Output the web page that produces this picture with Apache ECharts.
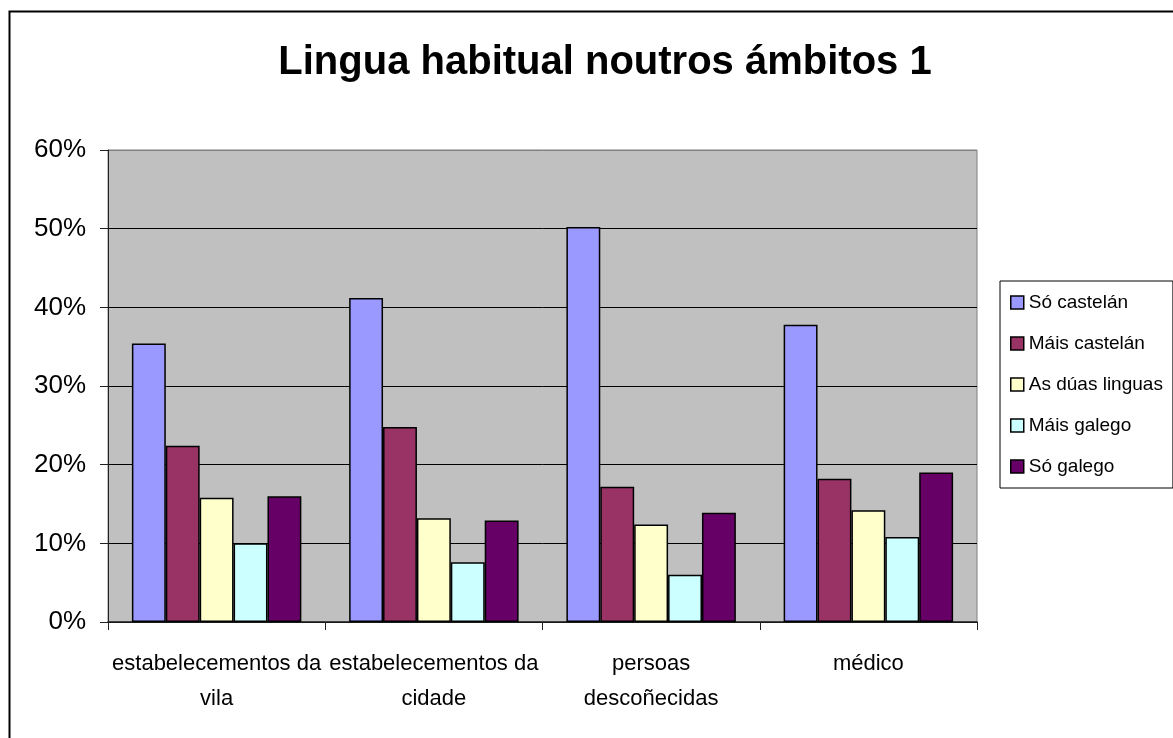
<!DOCTYPE html>
<html>
<head>
<meta charset="utf-8">
<script src="https://cdn.jsdelivr.net/npm/echarts@6/dist/echarts.min.js"></script>
<style>
  html, body { margin: 0; padding: 0; background: #fff; }
  #chart { width: 1173px; height: 738px; }
</style>
</head>
<body>
<div id="chart"></div>
<script>
// Survey shares by setting (fractions of respondents)
const categories = [
  'estabelecementos da\nvila',
  'estabelecementos da\ncidade',
  'persoas\ndescoñecidas',
  'médico'
];
const seriesNames = ['Só castelán', 'Máis castelán', 'As dúas linguas', 'Máis galego', 'Só galego'];
const soCastelan   = [0.354, 0.412, 0.502, 0.378];
const maisCastelan = [0.224, 0.248, 0.172, 0.182];
const duasLinguas  = [0.158, 0.132, 0.124, 0.142];
const maisGalego   = [0.100, 0.076, 0.060, 0.108];
const soGalego     = [0.160, 0.129, 0.139, 0.190];
const yTicks = [0, 0.1, 0.2, 0.3, 0.4, 0.5, 0.6];

const colors = ['#9999FF', '#993366', '#FFFFCC', '#CCFFFF', '#660066'];
const values = [soCastelan, maisCastelan, duasLinguas, maisGalego, soGalego];
const font = 'Arial, "Liberation Sans", sans-serif';

// gridlines are black; the top one doubles as the grey plot-area border
const gridLineColors = yTicks.map((t, i) => (i === yTicks.length - 1 ? '#808080' : '#000'));

const chart = echarts.init(document.getElementById('chart'), null, { renderer: 'canvas' });

chart.setOption({
  animation: false,
  backgroundColor: '#ffffff',
  color: colors,
  title: {
    text: 'Lingua habitual noutros ámbitos 1',
    left: 600,
    top: 38,
    textAlign: 'center',
    textStyle: { fontFamily: font, fontSize: 40, fontWeight: 'bold', color: '#000', lineHeight: 40 }
  },
  graphic: [{
    type: 'rect',
    left: 7, top: 9,
    shape: { width: 1200, height: 800 },
    style: { fill: 'none', stroke: '#000', lineWidth: 2 },
    silent: true,
    z: 100
  }],
  legend: {
    orient: 'vertical',
    left: 1000,
    top: 281,
    padding: [12, 10, 12, 10],
    itemGap: 22,
    itemWidth: 13,
    itemHeight: 13,
    icon: 'rect',
    borderColor: '#000',
    borderWidth: 1,
    backgroundColor: '#fff',
    itemStyle: { borderColor: '#000', borderWidth: 1.5 },
    textStyle: { fontFamily: font, fontSize: 19, color: '#000' },
    data: seriesNames
  },
  grid: {
    left: 108, right: 196, top: 150, bottom: 116,
    show: true,
    backgroundColor: '#C0C0C0',
    borderColor: '#808080',
    borderWidth: 1
  },
  xAxis: {
    type: 'category',
    data: categories,
    axisLine: { lineStyle: { color: '#222', width: 1.5 } },
    axisTick: { show: true, length: 8, lineStyle: { color: '#222' } },
    axisLabel: {
      interval: 0,
      margin: 24,
      fontFamily: font,
      fontSize: 22,
      lineHeight: 35,
      color: '#000'
    }
  },
  yAxis: {
    type: 'value',
    min: yTicks[0],
    max: yTicks[yTicks.length - 1],
    interval: 0.1,
    axisLine: { show: true, lineStyle: { color: '#222', width: 1 } },
    axisTick: { show: true, length: 8, lineStyle: { color: '#222' } },
    splitLine: { show: true, lineStyle: { color: gridLineColors, width: 1 } },
    axisLabel: {
      margin: 22,
      fontFamily: font,
      fontSize: 26,
      color: '#000',
      formatter: v => Math.round(v * 100) + '%'
    }
  },
  series: seriesNames.map((name, i) => ({
    name,
    type: 'bar',
    data: values[i],
    barGap: '0%',
    barCategoryGap: '22%',
    itemStyle: { color: colors[i], borderColor: '#000', borderWidth: 1.5 }
  }))
});
</script>
</body>
</html>
